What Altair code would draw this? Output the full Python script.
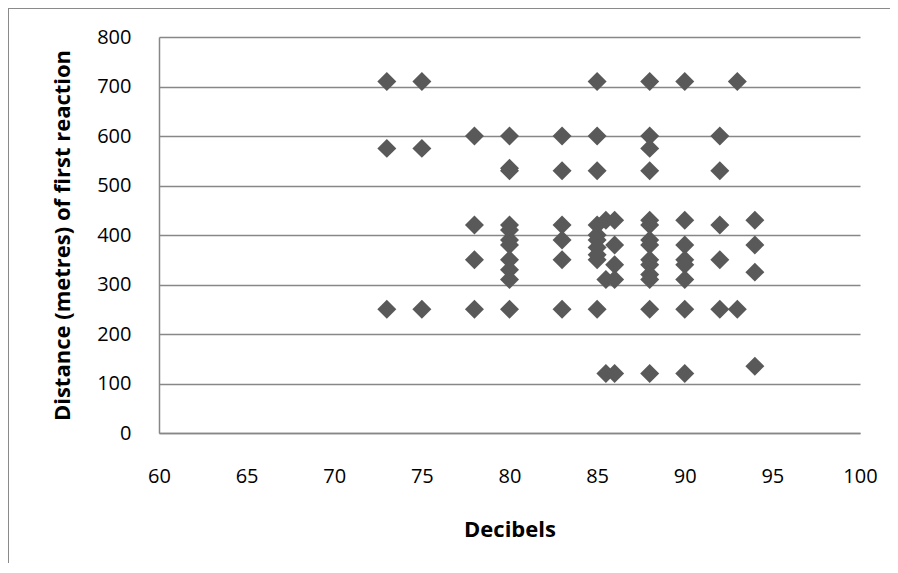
import altair as alt
import pandas as pd

# Data (Decibels vs distance of first reaction)
decibels = (
    [73, 73, 73]
    + [75, 75, 75]
    + [78, 78, 78, 78]
    + [80] * 11
    + [83] * 6
    + [85] * 10
    + [85.5] * 3
    + [86] * 5
    + [88] * 14
    + [90] * 8
    + [92] * 5
    + [93] * 2
    + [94] * 4
)
distance = (
    [710, 575, 250]
    + [710, 575, 250]
    + [600, 420, 350, 250]
    + [600, 535, 530, 420, 410, 390, 380, 350, 330, 310, 250]
    + [600, 530, 420, 390, 350, 250]
    + [710, 600, 530, 420, 400, 390, 375, 360, 350, 250]
    + [430, 310, 120]
    + [430, 380, 340, 310, 120]
    + [710, 600, 575, 530, 430, 420, 390, 380, 350, 340, 320, 310, 250, 120]
    + [710, 430, 380, 350, 340, 310, 250, 120]
    + [600, 530, 420, 350, 250]
    + [710, 250]
    + [430, 380, 325, 135]
)
x_ticks = [60, 65, 70, 75, 80, 85, 90, 95, 100]
y_ticks = [0, 100, 200, 300, 400, 500, 600, 700, 800]

df = pd.DataFrame({"Decibels": decibels, "Distance": distance})

FONT = "Open Sans"
GRID = "#878787"

points = alt.Chart(df).mark_point(
    shape="diamond", filled=True, size=360, color="#595959", opacity=1
).encode(
    x=alt.X(
        "Decibels:Q",
        scale=alt.Scale(domain=[60, 100], nice=False, zero=False),
        axis=alt.Axis(
            values=x_ticks, grid=False, ticks=False, domainColor=GRID,
            domainWidth=1.5, labelPadding=33, titlePadding=33,
            labelFlush=False, labelOverlap=False,
            title="Decibels",
        ),
    ),
    y=alt.Y(
        "Distance:Q",
        scale=alt.Scale(domain=[0, 800], nice=False),
        axis=alt.Axis(
            values=y_ticks, grid=True, gridColor=GRID, gridWidth=1.5,
            ticks=False, domainColor=GRID, domainWidth=1.5,
            labelPadding=28, titlePadding=22,
            labelFlush=False, labelOverlap=False,
            title="Distance (metres) of first reaction",
        ),
    ),
)

frame_top = alt.Chart(df).mark_rule(color="#8a8a8a", strokeWidth=1.5).encode(
    x=alt.value(-151), x2=alt.value(739), y=alt.value(-29)
)
frame_left = alt.Chart(df).mark_rule(color="#8a8a8a", strokeWidth=1.5).encode(
    x=alt.value(-151), y=alt.value(-29), y2=alt.value(540)
)

chart = alt.layer(frame_top, frame_left, points).properties(
    width=701,
    height=396,
    autosize=alt.AutoSizeParams(type="none"),
    padding={"left": 151, "top": 29, "right": 30, "bottom": 130},
    background="white",
).configure_view(strokeWidth=0).configure_axis(
    labelFont=FONT, labelFontSize=20, labelColor="black",
    titleFont=FONT, titleFontSize=22, titleFontWeight="bold", titleColor="black",
)

chart.save("out.html", embed_options={"renderer": "svg", "actions": False})
